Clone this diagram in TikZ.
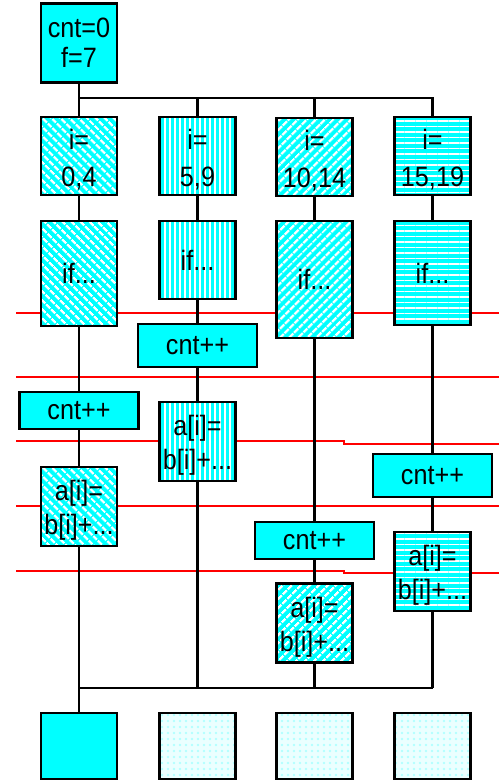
\documentclass[tikz,border=0pt]{standalone}
\usepackage{fontspec}
\setmainfont[FakeStretch=0.9]{Liberation Sans}
\usetikzlibrary{patterns.meta}
\definecolor{aqua}{RGB}{0,255,255}
\pgfdeclarelayer{bg}
\pgfsetlayers{bg,main}
\newcommand{\upstrut}{\rule{0pt}{28pt}}
\begin{document}
\begin{tikzpicture}[x=1pt,y=-1pt,
  box/.style={draw=black, line width=2.2pt, inner sep=0pt, align=center,
    font=\fontsize{28}{30}\selectfont},
  solidbox/.style={box, fill=aqua},
  diagA/.style={box, preaction={fill=aqua},
    preaction={pattern={Lines[angle=-45,distance=6.5pt,line width=2.6pt]}, pattern color=white}},
  diagB/.style={box, preaction={fill=aqua},
    preaction={pattern={Lines[angle=45,distance=6.5pt,line width=2.6pt]}, pattern color=white}},
  vert/.style={box, preaction={fill=aqua},
    preaction={pattern={Lines[angle=90,distance=5pt,line width=1.3pt]}, pattern color=white}},
  horz/.style={box, preaction={fill=aqua},
    preaction={pattern={Lines[angle=0,distance=5.5pt,line width=1.3pt]}, pattern color=white}},
  dotbox/.style={box, preaction={fill=aqua!8},
    preaction={pattern={Dots[distance=6pt,radius=1.4pt]}, pattern color=aqua!30}},
  ibox/.style={minimum width=76pt, minimum height=78pt, font=\fontsize{28}{37}\selectfont},
  abox/.style={minimum width=76pt, minimum height=79pt, font=\fontsize{28}{34}\selectfont},
  cbox/.style={solidbox, minimum width=119pt},
  conn/.style={draw=black, line width=2.2pt},
  redline/.style={draw=red, line width=2.4pt}
]
\useasboundingbox (0,0) rectangle (499,781);

% top
\node[solidbox, minimum width=76pt, minimum height=79pt] (t) at (79,43) {cnt=0\\f=7};

% i boxes
\node[diagA, ibox] (i1) at (79,156) {\upstrut i=\\0,4};
\node[vert,  ibox] (i2) at (197.5,156) {\upstrut i=\\5,9};
\node[diagB, ibox] (i3) at (314.5,157) {\upstrut i=\\10,14};
\node[horz,  ibox] (i4) at (432.5,156) {\upstrut i=\\15,19};

% if boxes
\node[diagA, minimum width=76pt, minimum height=105pt] (f1) at (79,273.5) {if...};
\node[vert,  minimum width=76pt, minimum height=78pt]  (f2) at (197.5,260) {if...};
\node[diagB, minimum width=76pt, minimum height=117pt] (f3) at (314.5,279.5) {if...};
\node[horz,  minimum width=76pt, minimum height=104pt] (f4) at (432.5,273) {if...};

% cnt++ boxes
\node[cbox, minimum height=37pt] (c1) at (79,410.5) {cnt++};
\node[cbox, minimum height=43pt] (c2) at (197.5,345.5) {cnt++};
\node[cbox, minimum height=37pt] (c3) at (314.5,540.5) {cnt++};
\node[cbox, minimum height=43pt] (c4) at (432.5,475.5) {cnt++};

% a boxes
\node[diagA, abox] (a1) at (79,506.5) {\upstrut a[i]=\\b[i]+...};
\node[vert,  abox] (a2) at (197.5,441.5) {\upstrut a[i]=\\b[i]+...};
\node[diagB, abox] (a3) at (314.5,623) {\upstrut a[i]=\\b[i]+...};
\node[horz,  abox] (a4) at (432.5,571.5) {\upstrut a[i]=\\b[i]+...};

% bottom boxes
\node[solidbox, minimum width=76pt, minimum height=66pt] (b1) at (79,746) {};
\node[dotbox,   minimum width=76pt, minimum height=66pt] (b2) at (197.5,746) {};
\node[dotbox,   minimum width=76pt, minimum height=66pt] (b3) at (314.5,746) {};
\node[dotbox,   minimum width=76pt, minimum height=66pt] (b4) at (432.5,746) {};

\coordinate (bus) at (0,98);
\coordinate (bbus) at (0,688);

\begin{pgfonlayer}{bg}
  % red lines
  \draw[redline] (16,313) -- (499,313);
  \draw[redline] (16,377) -- (499,377);
  \draw[redline] (16,441) -- (344,441) -- (344,444) -- (499,444);
  \draw[redline] (16,506) -- (499,506);
  \draw[redline] (16,571) -- (344,571) -- (344,573) -- (499,573);
  % connectors
  \draw[conn] (t) -- (i1);
  \draw[conn] (t|-bus) -| (i4);
  \draw[conn] (i2|-bus) -- (i2);
  \draw[conn] (i3|-bus) -- (i3);
  \draw[conn] (i1) -- (f1) -- (c1) -- (a1) -- (b1);
  \draw[conn] (i2) -- (f2) -- (c2) -- (a2) -- (a2|-bbus);
  \draw[conn] (i3) -- (f3) -- (c3) -- (a3) -- (a3|-bbus);
  \draw[conn] (i4) -- (f4) -- (c4) -- (a4) -- (a4|-bbus);
  \draw[conn] (a1|-bbus) -- (a4|-bbus);
\end{pgfonlayer}
\end{tikzpicture}
\end{document}
